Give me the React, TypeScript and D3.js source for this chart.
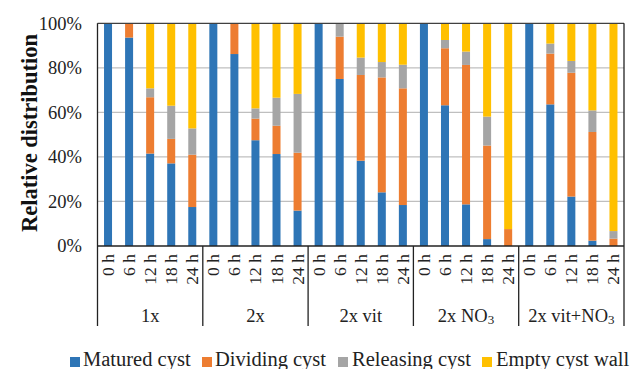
import React from "react";
import * as d3 from "d3";

const groups = ["1x", "2x", "2x vit", "2x NO3", "2x vit+NO3"];
const hours = ["0 h", "6 h", "12 h", "18 h", "24 h"];
const seriesNames = ["Matured cyst", "Dividing cyst", "Releasing cyst", "Empty cyst wall"];
const colors = ["#2E75B6", "#ED7D31", "#A5A5A5", "#FFC000"];
const matured = [100, 93.6, 41.5, 37.1, 17.5, 100, 86.2, 47.5, 41.3, 15.9, 100, 75, 38.3, 24.1, 18.4, 100, 63.2, 18.7, 3.1, 0, 100, 63.6, 22.2, 2.4, 0];
const dividing = [0, 6.4, 25.3, 11, 23.5, 0, 13.8, 9.7, 12.7, 26, 0, 19, 38.5, 51.6, 52.4, 0, 25.6, 62.6, 42, 7.6, 0, 22.8, 55.6, 48.8, 3.3];
const releasing = [0, 0, 4, 14.9, 11.8, 0, 0, 4.6, 12.6, 26.4, 0, 6, 7.8, 6.9, 10.6, 0, 3.7, 6, 13, 0, 0, 4.5, 5.3, 9.7, 3.4];
const empty = [0, 0, 29.2, 37, 47.2, 0, 0, 38.2, 33.4, 31.7, 0, 0, 15.4, 17.4, 18.6, 0, 7.5, 12.7, 41.9, 92.4, 0, 9.1, 16.9, 39.1, 93.3];
const yTicks = [0, 20, 40, 60, 80, 100];

const FONT = "Liberation Serif";

export default function App() {
  const W = 631, H = 369;
  const left = 97.5, right = 624, top = 23.3, bottom = 246;
  const keys = ["m", "d", "r", "e"];
  const rows = matured.map((_, i) => ({
    id: i,
    m: matured[i], d: dividing[i], r: releasing[i], e: empty[i],
  }));
  const x = d3.scaleBand<number>().domain(rows.map((r) => r.id)).range([left, right]).paddingInner(0.62).paddingOuter(0.31);
  const y = d3.scaleLinear().domain([0, 100]).range([bottom, top]);
  const stacked = d3.stack<any>().keys(keys)(rows);
  const groupW = (right - left) / groups.length;

  const groupLabel = (g: string) => {
    if (g.endsWith("NO3")) {
      return (
        <>
          {g.slice(0, -1)}
          <tspan fontSize={13} dy={2}>3</tspan>
        </>
      );
    }
    return g;
  };

  const legendItems = [
    { sq: 70, tx: 83 },
    { sq: 202, tx: 215 },
    { sq: 338, tx: 352 },
    { sq: 482, tx: 496 },
  ];

  return (
    <svg width={W} height={H} style={{ position: "absolute", left: 0, top: 0, background: "#fff" }}>
      {yTicks.filter((t) => t > 0 && t < 100).map((t) => (
        <line key={t} x1={left} x2={right} y1={y(t)} y2={y(t)} stroke="#BFBFBF" strokeWidth={1.2} />
      ))}
      {stacked.map((layer, li) => (
        <g key={li} fill={colors[li]}>
          {layer.map((seg, i) => {
            const h = y(seg[0]) - y(seg[1]);
            if (h <= 0) return null;
            return <rect key={i} x={x(i)} y={y(seg[1])} width={x.bandwidth()} height={h} />;
          })}
        </g>
      ))}
      <line x1={left} x2={right} y1={top} y2={top} stroke="#404040" strokeWidth={1.2} />
      <line x1={left} x2={right} y1={bottom} y2={bottom} stroke="#222" strokeWidth={1.3} />
      {yTicks.map((t) => (
        <text key={t} x={82} y={y(t)} dy="0.35em" textAnchor="end" fontSize={18.5} fill="#222" style={{ fontFamily: FONT }}>
          {t}%
        </text>
      ))}
      <text transform={`translate(37,133) rotate(-90)`} textAnchor="middle" fontSize={22.5} fontWeight="bold" fill="#111" style={{ fontFamily: FONT }}>
        Relative distribution
      </text>
      {d3.range(groups.length + 1).map((k) => (
        <line key={k} x1={left + k * groupW} x2={left + k * groupW} y1={k === 0 || k === groups.length ? top : bottom} y2={326} stroke="#222" strokeWidth={1.3} />
      ))}
      {rows.map((r, i) => (
        <text key={i} transform={`translate(${(x(i) as number) + x.bandwidth() / 2},254) rotate(-90)`} textAnchor="end" dominantBaseline="central" fontSize={17.5} fill="#222" style={{ fontFamily: FONT }}>
          {hours[i % hours.length]}
        </text>
      ))}
      {groups.map((g, k) => (
        <text key={g} x={left + (k + 0.5) * groupW} y={322} textAnchor="middle" fontSize={18.5} fill="#222" style={{ fontFamily: FONT }}>
          {groupLabel(g)}
        </text>
      ))}
      {seriesNames.map((s, i) => (
        <g key={s}>
          <rect x={legendItems[i].sq} y={357} width={10} height={10} fill={colors[i]} />
          <text x={legendItems[i].tx} y={366} fontSize={20.5} fill="#222" style={{ fontFamily: FONT }}>{s}</text>
        </g>
      ))}
    </svg>
  );
}
